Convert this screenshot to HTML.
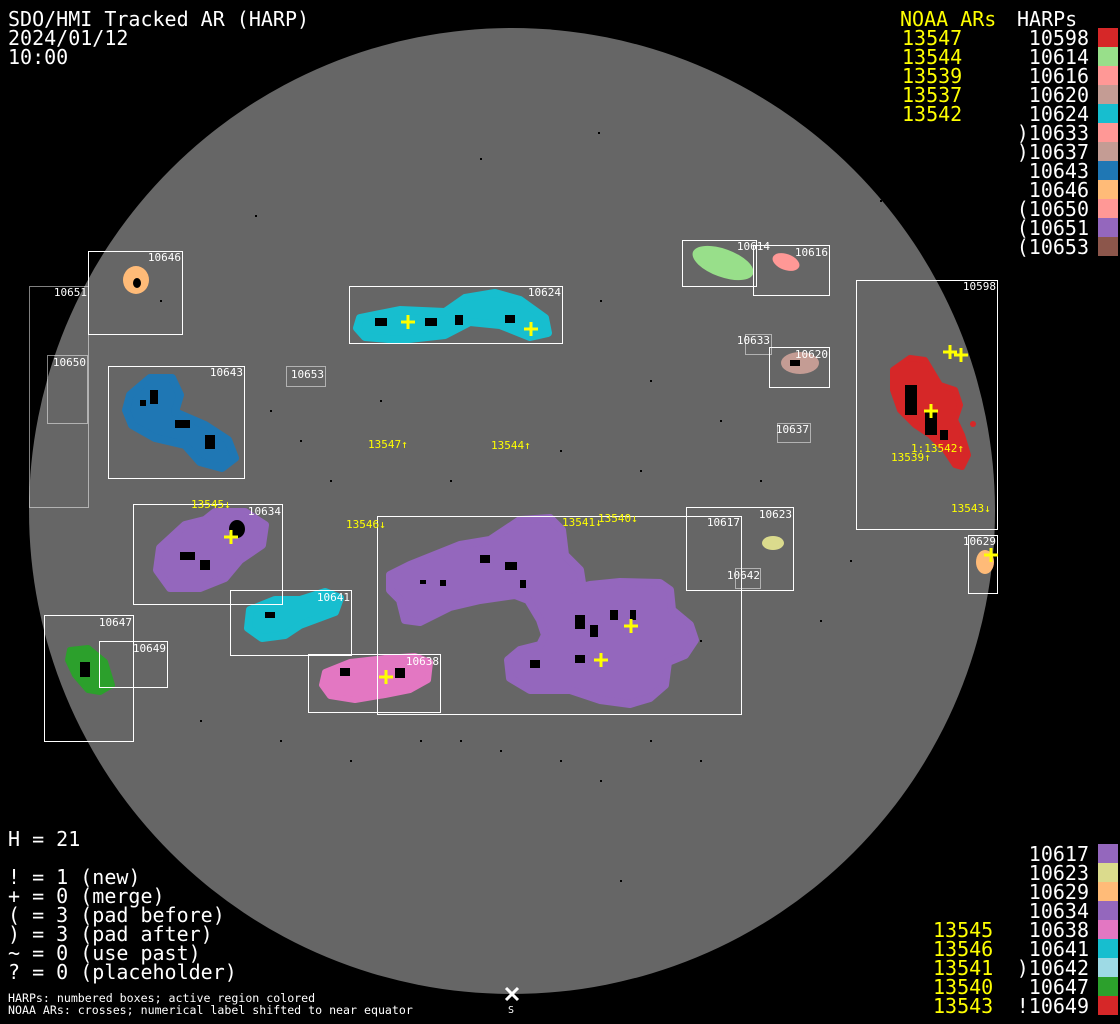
<!DOCTYPE html>
<html><head><meta charset="utf-8"><style>
html,body{margin:0;padding:0;background:#000;}
svg{display:block}
.m{font-family:"DejaVu Sans Mono","Liberation Mono",monospace;}
</style></head><body>
<svg width="1120" height="1024" viewBox="0 0 1120 1024" xmlns="http://www.w3.org/2000/svg" class="m">
<rect width="1120" height="1024" fill="#000"/>
<circle cx="512" cy="511" r="483" fill="#666"/>

<!-- speckles -->
<g fill="#000">
<rect x="255" y="215" width="2" height="2"/><rect x="598" y="132" width="2" height="2"/><rect x="480" y="158" width="2" height="2"/>
<rect x="300" y="440" width="2" height="2"/><rect x="640" y="470" width="2" height="2"/><rect x="720" y="420" width="2" height="2"/>
<rect x="330" y="480" width="2" height="2"/><rect x="460" y="740" width="2" height="2"/><rect x="560" y="760" width="2" height="2"/>
<rect x="620" y="880" width="2" height="2"/><rect x="700" y="760" width="2" height="2"/><rect x="200" y="720" width="2" height="2"/>
<rect x="270" y="410" width="2" height="2"/><rect x="880" y="200" width="2" height="2"/><rect x="160" y="300" width="2" height="2"/>
<rect x="420" y="740" width="2" height="2"/><rect x="500" y="750" width="2" height="2"/><rect x="650" y="740" width="2" height="2"/>
<rect x="350" y="760" width="2" height="2"/><rect x="600" y="780" width="2" height="2"/><rect x="280" y="740" width="2" height="2"/>
<rect x="820" y="620" width="2" height="2"/><rect x="850" y="560" width="2" height="2"/><rect x="760" y="480" width="2" height="2"/>
<rect x="600" y="300" width="2" height="2"/><rect x="650" y="380" width="2" height="2"/><rect x="380" y="400" width="2" height="2"/>
<rect x="450" y="480" width="2" height="2"/><rect x="560" y="450" width="2" height="2"/><rect x="700" y="640" width="2" height="2"/>
</g>

<!-- colored regions -->
<g stroke-linejoin="round">
<ellipse cx="136" cy="280" rx="13" ry="14" fill="#ffbb78"/>
<path d="M360,318 L400,310 L445,312 L465,298 L495,293 L520,300 L545,318 L548,333 L530,337 L500,325 L470,322 L445,335 L400,340 L365,337 L357,328Z" fill="#17becf" stroke="#17becf" stroke-width="8"/>
<path d="M130,395 L150,378 L172,378 L180,395 L175,412 L205,425 L228,440 L235,458 L222,468 L200,462 L185,445 L155,438 L132,425 L126,410Z" fill="#1f77b4" stroke="#1f77b4" stroke-width="8"/>
<ellipse cx="723" cy="263" rx="32" ry="14" transform="rotate(20 723 263)" fill="#98df8a"/>
<ellipse cx="786" cy="262" rx="14" ry="8" transform="rotate(20 786 262)" fill="#ff9896"/>
<ellipse cx="800" cy="363" rx="19" ry="11" fill="#c49c94"/>
<path d="M893,370 L910,358 L925,360 L940,385 L955,390 L960,405 L955,420 L962,435 L968,455 L962,467 L955,465 L945,450 L930,435 L915,425 L900,410 L893,390Z" fill="#d62728" stroke="#d62728" stroke-width="6"/>
<circle cx="973" cy="424" r="3" fill="#d62728"/>
<path d="M160,548 L185,525 L205,520 L215,512 L245,512 L265,525 L262,545 L240,560 L225,578 L200,588 L170,588 L157,570Z" fill="#9467bd" stroke="#9467bd" stroke-width="8"/>
<ellipse cx="773" cy="543" rx="11" ry="7" fill="#dbdb8d"/>
<ellipse cx="985" cy="562" rx="9" ry="12" fill="#ffbb78"/>
<path d="M250,610 L275,600 L300,600 L325,592 L340,598 L335,612 L300,625 L285,635 L262,638 L248,628Z" fill="#17becf" stroke="#17becf" stroke-width="8"/>
<path d="M70,650 L88,648 L105,662 L112,685 L100,692 L88,690 L75,675 L68,660Z" fill="#2ca02c" stroke="#2ca02c" stroke-width="6"/>
<path d="M325,672 L350,662 L385,658 L415,656 L430,662 L428,680 L410,690 L385,695 L355,700 L330,696 L322,685Z" fill="#e377c2" stroke="#e377c2" stroke-width="6"/>
<path d="M390,575 L410,565 L460,545 L490,540 L520,520 L550,518 L562,530 L565,555 L580,570 L582,583 L570,590 L590,585 L620,582 L660,583 L670,590 L672,610 L690,625 L695,640 L685,655 L668,662 L665,685 L650,698 L630,704 L600,700 L570,690 L530,690 L510,678 L508,660 L520,650 L540,645 L545,635 L540,620 L528,600 L515,595 L480,600 L450,607 L420,622 L405,620 L400,600 L390,590Z" fill="#9467bd" stroke="#9467bd" stroke-width="8"/>
</g>

<!-- black spots inside regions -->
<g fill="#000">
<ellipse cx="137" cy="283" rx="4" ry="5"/>
<rect x="375" y="318" width="12" height="8"/><rect x="425" y="318" width="12" height="8"/><rect x="455" y="315" width="8" height="10"/><rect x="505" y="315" width="10" height="8"/>
<rect x="150" y="390" width="8" height="14"/><rect x="175" y="420" width="15" height="8"/><rect x="205" y="435" width="10" height="14"/><rect x="140" y="400" width="6" height="6"/>
<rect x="905" y="385" width="12" height="30"/><rect x="925" y="410" width="12" height="25"/><rect x="940" y="430" width="8" height="10"/>
<ellipse cx="237" cy="529" rx="8" ry="9"/><rect x="180" y="552" width="15" height="8"/><rect x="200" y="560" width="10" height="10"/>
<rect x="265" y="612" width="10" height="6"/><rect x="80" y="662" width="10" height="15"/>
<rect x="340" y="668" width="10" height="8"/><rect x="395" y="668" width="10" height="10"/>
<rect x="575" y="615" width="10" height="14"/><rect x="590" y="625" width="8" height="12"/><rect x="610" y="610" width="8" height="10"/><rect x="575" y="655" width="10" height="8"/><rect x="630" y="610" width="6" height="10"/><rect x="530" y="660" width="10" height="8"/>
<rect x="480" y="555" width="10" height="8"/><rect x="505" y="562" width="12" height="8"/><rect x="440" y="580" width="6" height="6"/><rect x="520" y="580" width="6" height="8"/><rect x="420" y="580" width="6" height="4"/>
<rect x="790" y="360" width="10" height="6"/>
</g>

<!-- boxes -->
<g fill="none" stroke="#fff" stroke-width="1">
<rect x="88.5" y="251.5" width="94" height="83"/>
<rect x="349.5" y="286.5" width="213" height="57"/>
<rect x="108.5" y="366.5" width="136" height="112"/>
<rect x="682.5" y="240.5" width="74" height="46"/>
<rect x="753.5" y="245.5" width="76" height="50"/>
<rect x="769.5" y="347.5" width="60" height="40"/>
<rect x="856.5" y="280.5" width="141" height="249"/>
<rect x="133.5" y="504.5" width="149" height="100"/>
<rect x="377.5" y="516.5" width="364" height="198"/>
<rect x="686.5" y="507.5" width="107" height="83"/>
<rect x="968.5" y="535.5" width="29" height="58"/>
<rect x="230.5" y="590.5" width="121" height="65"/>
<rect x="44.5" y="615.5" width="89" height="126"/>
<rect x="99.5" y="641.5" width="68" height="46"/>
<rect x="308.5" y="654.5" width="132" height="58"/>
</g>
<g fill="none" stroke="#fff" stroke-width="1" stroke-dasharray="1,1">
<rect x="29.5" y="286.5" width="59" height="221"/>
<rect x="47.5" y="355.5" width="40" height="68"/>
<rect x="286.5" y="366.5" width="39" height="20"/>
<rect x="745.5" y="334.5" width="26" height="20"/>
<rect x="777.5" y="423.5" width="33" height="19"/>
<rect x="735.5" y="568.5" width="25" height="20"/>
</g>

<!-- box labels -->
<g fill="#fff" font-size="11" text-anchor="end">
<text x="181" y="261">10646</text><text x="87" y="296">10651</text><text x="86" y="366">10650</text>
<text x="561" y="296">10624</text><text x="324" y="378">10653</text><text x="243" y="376">10643</text>
<text x="770" y="250">10614</text><text x="828" y="256">10616</text><text x="770" y="344">10633</text>
<text x="828" y="358">10620</text><text x="809" y="433">10637</text><text x="996" y="290">10598</text>
<text x="281" y="515">10634</text><text x="740" y="526">10617</text><text x="792" y="518">10623</text>
<text x="760" y="579">10642</text><text x="996" y="545">10629</text><text x="350" y="601">10641</text>
<text x="132" y="626">10647</text><text x="166" y="652">10649</text><text x="439" y="665">10638</text>
</g>

<!-- crosses -->
<g stroke="#ff0" stroke-width="3" fill="none">
<path d="M401,322h14M408,315v14"/><path d="M524,329h14M531,322v14"/>
<path d="M943,352h14M950,345v14"/><path d="M954,355h14M961,348v14"/>
<path d="M924,411h14M931,404v14"/><path d="M224,537h14M231,530v14"/>
<path d="M624,626h14M631,619v14"/><path d="M594,660h14M601,653v14"/>
<path d="M379,677h14M386,670v14"/><path d="M984,555h14M991,548v14"/>
</g>

<!-- NOAA labels -->
<g fill="#ff0" font-size="11">
<text x="368" y="448">13547↑</text><text x="491" y="449">13544↑</text>
<text x="911" y="452">1:13542↑</text><text x="891" y="461">13539↑</text>
<text x="951" y="512">13543↓</text><text x="191" y="508">13545↓</text>
<text x="346" y="528">13546↓</text><text x="562" y="526">13541↓</text><text x="598" y="522">13540↓</text>
</g>

<!-- header -->
<g fill="#fff" font-size="20">
<text x="8" y="26">SDO/HMI Tracked AR (HARP)</text>
<text x="8" y="45">2024/01/12</text>
<text x="8" y="64">10:00</text>
</g>

<!-- top-right legend -->
<g font-size="20">
<text x="900" y="26" fill="#ff0">NOAA ARs</text>
<text x="1017" y="26" fill="#fff">HARPs</text>
<g fill="#ff0"><text x="902" y="45">13547</text><text x="902" y="64">13544</text><text x="902" y="83">13539</text><text x="902" y="102">13537</text><text x="902" y="121">13542</text></g>
<g fill="#fff" text-anchor="end">
<text x="1089" y="45">10598</text><text x="1089" y="64">10614</text><text x="1089" y="83">10616</text><text x="1089" y="102">10620</text>
<text x="1089" y="121">10624</text><text x="1089" y="140">)10633</text><text x="1089" y="159">)10637</text><text x="1089" y="178">10643</text>
<text x="1089" y="197">10646</text><text x="1089" y="216">(10650</text><text x="1089" y="235">(10651</text><text x="1089" y="254">(10653</text>
</g>
</g>
<g>
<rect x="1098" y="28" width="20" height="19" fill="#d62728"/><rect x="1098" y="47" width="20" height="19" fill="#98df8a"/>
<rect x="1098" y="66" width="20" height="19" fill="#ff9896"/><rect x="1098" y="85" width="20" height="19" fill="#c49c94"/>
<rect x="1098" y="104" width="20" height="19" fill="#17becf"/><rect x="1098" y="123" width="20" height="19" fill="#ff9896"/>
<rect x="1098" y="142" width="20" height="19" fill="#c49c94"/><rect x="1098" y="161" width="20" height="19" fill="#1f77b4"/>
<rect x="1098" y="180" width="20" height="19" fill="#ffbb78"/><rect x="1098" y="199" width="20" height="19" fill="#ff9896"/>
<rect x="1098" y="218" width="20" height="19" fill="#9467bd"/><rect x="1098" y="237" width="20" height="19" fill="#8c564b"/>
</g>

<!-- bottom-right legend -->
<g font-size="20">
<g fill="#ff0"><text x="933" y="937">13545</text><text x="933" y="956">13546</text><text x="933" y="975">13541</text><text x="933" y="994">13540</text><text x="933" y="1013">13543</text></g>
<g fill="#fff" text-anchor="end">
<text x="1089" y="861">10617</text><text x="1089" y="880">10623</text><text x="1089" y="899">10629</text><text x="1089" y="918">10634</text>
<text x="1089" y="937">10638</text><text x="1089" y="956">10641</text><text x="1089" y="975">)10642</text><text x="1089" y="994">10647</text><text x="1089" y="1013">!10649</text>
</g>
</g>
<g>
<rect x="1098" y="844" width="20" height="19" fill="#9467bd"/><rect x="1098" y="863" width="20" height="19" fill="#dbdb8d"/>
<rect x="1098" y="882" width="20" height="19" fill="#ffbb78"/><rect x="1098" y="901" width="20" height="19" fill="#9467bd"/>
<rect x="1098" y="920" width="20" height="19" fill="#e377c2"/><rect x="1098" y="939" width="20" height="19" fill="#17becf"/>
<rect x="1098" y="958" width="20" height="19" fill="#9edae5"/><rect x="1098" y="977" width="20" height="19" fill="#2ca02c"/>
<rect x="1098" y="996" width="20" height="19" fill="#d62728"/>
</g>

<!-- bottom-left text -->
<g fill="#fff" font-size="20">
<text x="8" y="846">H = 21</text>
<text x="8" y="884">! = 1 (new)</text>
<text x="8" y="903">+ = 0 (merge)</text>
<text x="8" y="922">( = 3 (pad before)</text>
<text x="8" y="941">) = 3 (pad after)</text>
<text x="8" y="960">~ = 0 (use past)</text>
<text x="8" y="979">? = 0 (placeholder)</text>
</g>
<g fill="#fff" font-size="11.6">
<text x="8" y="1002">HARPs: numbered boxes; active region colored</text>
<text x="8" y="1014">NOAA ARs: crosses; numerical label shifted to near equator</text>
</g>

<!-- south marker -->
<path d="M506,988l12,12M518,988l-12,12" stroke="#fff" stroke-width="3"/>
<text x="508" y="1013" fill="#fff" font-size="10">S</text>
</svg>
</body></html>
